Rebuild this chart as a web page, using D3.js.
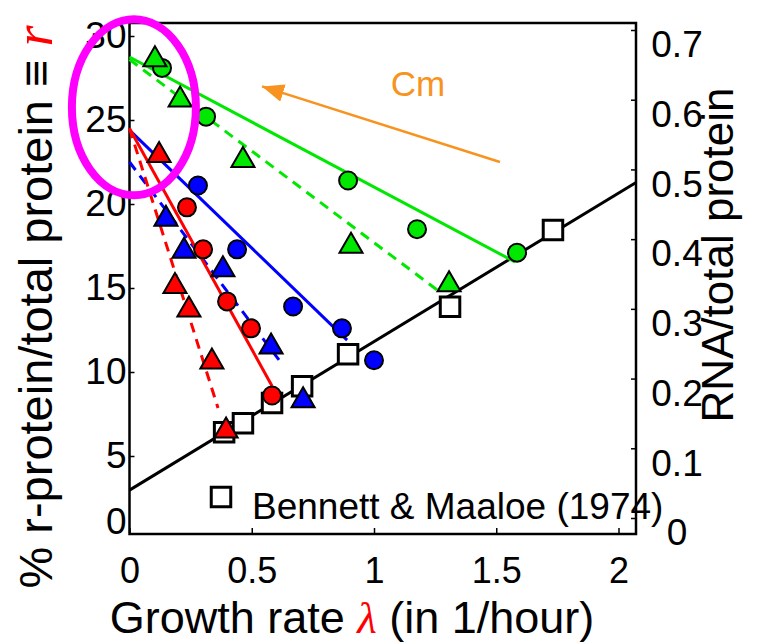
<!DOCTYPE html>
<html>
<head>
<meta charset="utf-8">
<script src="https://cdn.jsdelivr.net/npm/d3@7"></script>
<style>
  body { margin: 0; background: #fff; }
  svg { display: block; font-family: Arial, "Liberation Sans", sans-serif; }
</style>
</head>
<body>
<svg id="chart" width="760" height="644"></svg>
<script>
// growth rate (1/h), r-protein fraction (%)
const greenCircles = [[0.133, 28.1], [0.313, 25.2], [0.894, 21.4], [1.176, 18.5], [1.585, 17.1]];
const greenTriangles = [[0.104, 28.6], [0.207, 26.2], [0.464, 22.6], [0.906, 17.5], [1.307, 15.2]];
const blueCircles = [[0.280, 21.1], [0.440, 17.3], [0.669, 13.9], [0.869, 12.6], [1.000, 10.7]];
const blueTriangles = [[0.149, 19.1], [0.223, 17.2], [0.382, 16.1], [0.579, 11.5], [0.710, 8.3]];
const redCircles = [[0.235, 19.8], [0.301, 17.3], [0.399, 14.2], [0.497, 12.6], [0.583, 8.6]];
const redTriangles = [[0.121, 22.9], [0.186, 15.1], [0.243, 13.7], [0.337, 10.6], [0.395, 6.5]];

// Bennett & Maaloe (1974): growth rate, RNA/total protein
const bennett = [[0.387, 0.123], [0.464, 0.136], [0.583, 0.165], [0.706, 0.189], [0.894, 0.235], [1.311, 0.303], [1.732, 0.413]];

// fitted lines, end points
const greenSolidFit = [[0, 28.75], [1.577, 16.55]];
const greenDashedFit = [[0, 28.6], [1.270, 14.76]];
const blueSolidFit = [[0, 24.4], [0.890, 11.9]];
const blueDashedFit = [[0, 22.5], [0.628, 10.4]];
const redSolidFit = [[0, 24.5], [0.583, 9.17]];
const redDashedFit = [[0, 24.5], [0.362, 7.86]];
const bennettFit = [[0, 0.040], [2.07, 0.481]];

const xTicks = [0, 0.5, 1, 1.5, 2];
const leftTicks = [0, 5, 10, 15, 20, 25, 30];
const rightTicks = [0, 0.1, 0.2, 0.3, 0.4, 0.5, 0.6, 0.7];

// Cm arrow (tail, head), label and highlight ellipse centre, in data units
const cmArrow = [[1.515, 22.5], [0.542, 27.0]];
const cmLabel = [1.18, 26.4];
const highlightCentre = [0.018, 25.76];

const GREEN = "#00e800", BLUE = "#0000ff", RED = "#ff0000";

const svg = d3.select("#chart");
const plotLeft = 129.5, plotRight = 636, plotTop = 23, plotBottom = 534;

const x = d3.scaleLinear().domain([0, 2]).range([129.5, 618.5]);
const yL = d3.scaleLinear().domain([0, 30]).range([540, 36]);
const yR = d3.scaleLinear().domain([0, 0.7]).range([518, 30]);

// frame
svg.append("rect")
    .attr("x", plotLeft).attr("y", plotTop)
    .attr("width", plotRight - plotLeft).attr("height", plotBottom - plotTop)
    .attr("fill", "none").attr("stroke", "#000").attr("stroke-width", 2.5);

// axes
const xAxis = svg.append("g")
    .attr("transform", `translate(0,${plotBottom})`)
    .call(d3.axisBottom(x).tickValues(xTicks).tickSizeInner(-6).tickSizeOuter(0)
        .tickPadding(23).tickFormat(d => String(d)));

const leftAxis = svg.append("g")
    .attr("transform", `translate(${plotLeft},0)`)
    .call(d3.axisLeft(yL).tickValues(leftTicks).tickSizeInner(-5).tickSizeOuter(0)
        .tickPadding(3).tickFormat(d => String(d)));
leftAxis.selectAll(".tick").filter(d => d === 0).select("line").remove();
leftAxis.selectAll(".tick").filter(d => d === 0).select("text").attr("transform", "translate(0,-18)");

const rightAxis = svg.append("g")
    .attr("transform", `translate(${plotRight},0)`)
    .call(d3.axisRight(yR).tickValues(rightTicks).tickSizeInner(-5).tickSizeOuter(0)
        .tickPadding(41).tickFormat(d => d === 0 ? "0" : d3.format(".1f")(d)));
rightAxis.selectAll("text").attr("text-anchor", "middle").attr("transform", "translate(0,15)");

[xAxis, leftAxis, rightAxis].forEach(g => {
    g.select(".domain").remove();
    g.selectAll("line").attr("stroke", "#000").attr("stroke-width", 1.5);
    g.selectAll("text").attr("font-size", 37).attr("fill", "#000")
        .attr("font-family", "Arial, 'Liberation Sans', sans-serif");
});
xAxis.selectAll("text").attr("font-size", 36);

// fit lines
const lineL = d3.line().x(d => x(d[0])).y(d => yL(d[1]));
const lineR = d3.line().x(d => x(d[0])).y(d => yR(d[1]));

svg.append("path").datum(bennettFit).attr("d", lineR)
    .attr("fill", "none").attr("stroke", "#000").attr("stroke-width", 3);

const fits = [
    [greenSolidFit, GREEN, null],
    [greenDashedFit, GREEN, "10,7"],
    [blueSolidFit, BLUE, null],
    [blueDashedFit, BLUE, "10,7"],
    [redSolidFit, RED, null],
    [redDashedFit, RED, "10,7"]
];
fits.forEach(([pts, color, dash]) => {
    svg.append("path").datum(pts).attr("d", lineL)
        .attr("fill", "none").attr("stroke", color).attr("stroke-width", 3)
        .attr("stroke-dasharray", dash);
});

// Bennett squares
svg.append("g").selectAll("path").data(bennett).join("path")
    .attr("d", d3.symbol().type(d3.symbolSquare).size(380))
    .attr("transform", d => `translate(${x(d[0])},${yR(d[1])})`)
    .attr("fill", "#fff").attr("stroke", "#000").attr("stroke-width", 3);

// r-protein markers
const circle = d3.symbol().type(d3.symbolCircle).size(254);
const triangle = d3.symbol().type(d3.symbolTriangle).size(230);
const markerSets = [
    [greenCircles, circle, GREEN],
    [greenTriangles, triangle, GREEN],
    [blueCircles, circle, BLUE],
    [blueTriangles, triangle, BLUE],
    [redCircles, circle, RED],
    [redTriangles, triangle, RED]
];
markerSets.forEach(([pts, sym, color]) => {
    svg.append("g").selectAll("path").data(pts).join("path")
        .attr("d", sym)
        .attr("transform", d => `translate(${x(d[0])},${yL(d[1])})`)
        .attr("fill", color).attr("stroke", "#000").attr("stroke-width", 2);
});

// legend
svg.append("path")
    .attr("d", d3.symbol().type(d3.symbolSquare).size(380))
    .attr("transform", "translate(221,497)")
    .attr("fill", "#fff").attr("stroke", "#000").attr("stroke-width", 3);
svg.append("text").attr("x", 252).attr("y", 519)
    .attr("font-size", 37).text("Bennett & Maaloe (1974)");

// Cm arrow
svg.append("defs").append("marker")
    .attr("id", "arrowhead")
    .attr("markerUnits", "userSpaceOnUse")
    .attr("markerWidth", 24).attr("markerHeight", 18)
    .attr("refX", 22).attr("refY", 9)
    .attr("orient", "auto")
    .append("path").attr("d", "M0,0 L22,9 L0,18 Z").attr("fill", "#f7931e");
svg.append("line")
    .attr("x1", x(cmArrow[0][0])).attr("y1", yL(cmArrow[0][1]))
    .attr("x2", x(cmArrow[1][0])).attr("y2", yL(cmArrow[1][1]))
    .attr("stroke", "#f7931e").attr("stroke-width", 2.5)
    .attr("marker-end", "url(#arrowhead)");
svg.append("text")
    .attr("x", x(cmLabel[0])).attr("y", yL(cmLabel[1]))
    .attr("text-anchor", "middle").attr("font-size", 35).attr("fill", "#f7931e")
    .text("Cm");

// axis titles
const xTitle = svg.append("text").attr("x", 352).attr("y", 633)
    .attr("text-anchor", "middle").attr("font-size", 45);
xTitle.append("tspan").text("Growth rate ");
xTitle.append("tspan").attr("fill", RED).attr("font-style", "italic")
    .attr("font-family", "'Liberation Serif', 'DejaVu Serif', serif").text("λ");
xTitle.append("tspan").text(" (in 1/hour)");

const yTitle = svg.append("text")
    .attr("transform", "translate(52,307) rotate(-90)")
    .attr("text-anchor", "middle").attr("font-size", 47);
yTitle.append("tspan").text("% r-protein/total protein ≡ ");
yTitle.append("tspan").attr("fill", RED).attr("font-style", "italic").attr("font-size", 54)
    .attr("font-family", "'Liberation Serif', 'DejaVu Serif', serif").text("r");

svg.append("text")
    .attr("transform", "translate(733,255) rotate(-90)")
    .attr("text-anchor", "middle").attr("font-size", 44)
    .text("RNA/total protein");

// highlight ellipse around the intercepts
svg.append("ellipse")
    .attr("cx", x(highlightCentre[0])).attr("cy", yL(highlightCentre[1]))
    .attr("rx", 62).attr("ry", 88)
    .attr("fill", "none").attr("stroke", "#ff00ff").attr("stroke-width", 8);
</script>
</body>
</html>
